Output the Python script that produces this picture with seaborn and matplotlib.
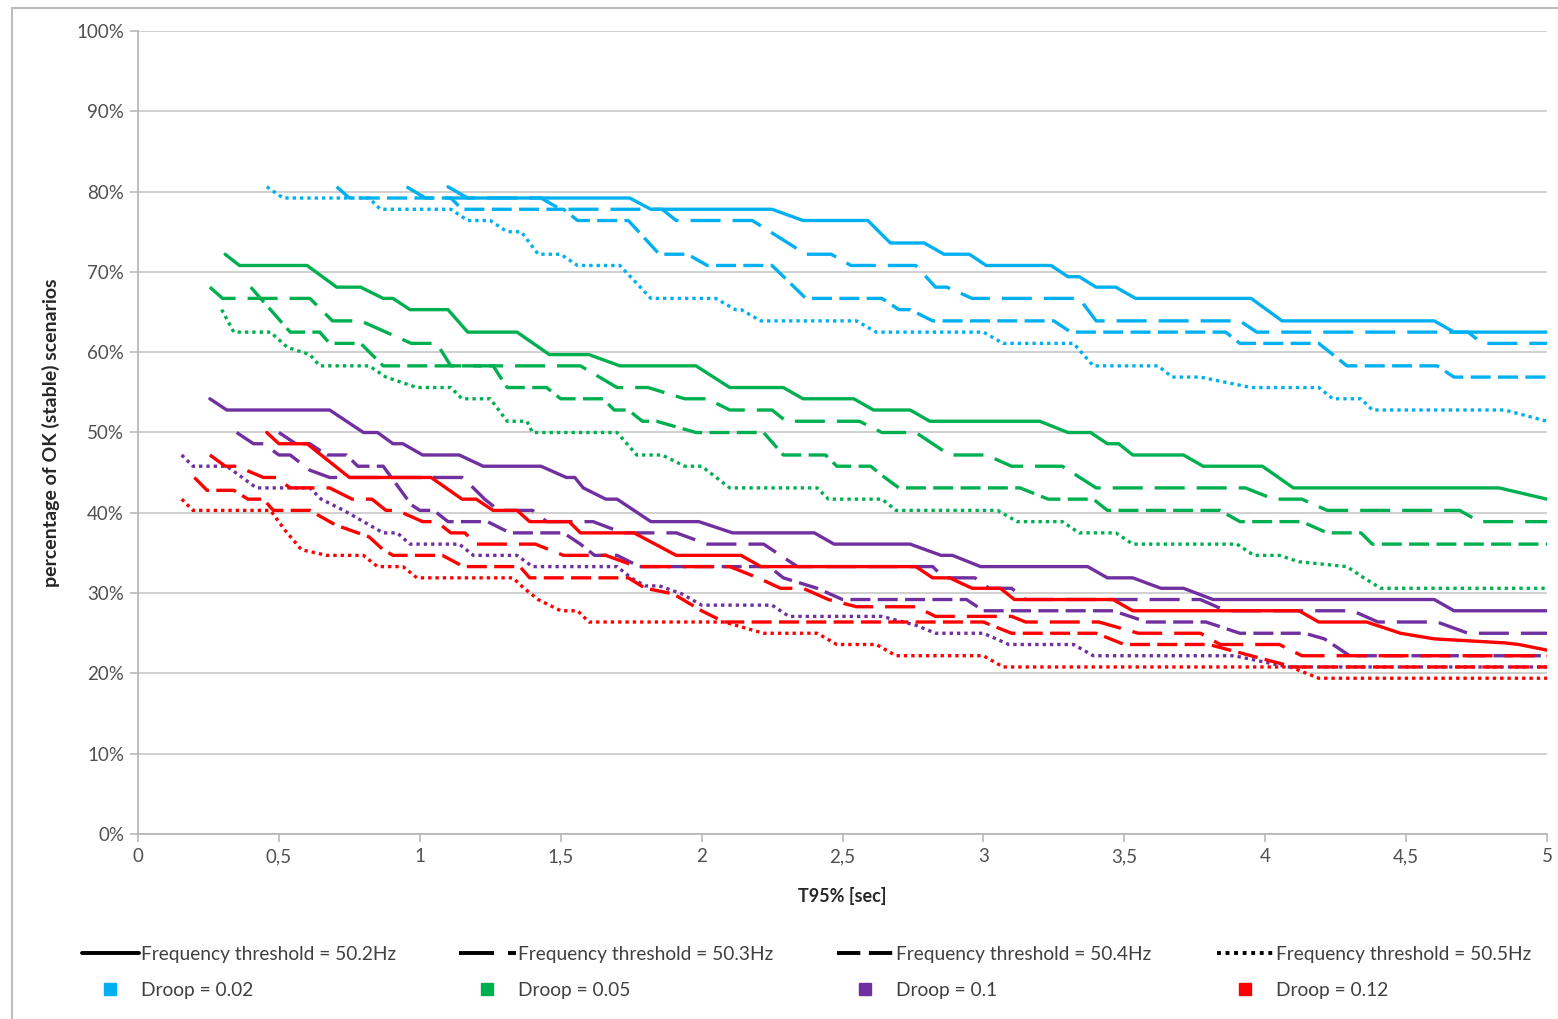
import matplotlib
matplotlib.use("Agg")
import matplotlib.pyplot as plt
import pandas as pd
import seaborn as sns
from matplotlib.lines import Line2D
from matplotlib.ticker import PercentFormatter

# ---- series: T95% [sec] vs percentage of OK scenarios ----
droop_labels = ["Droop = 0.02", "Droop = 0.05", "Droop = 0.1", "Droop = 0.12"]
threshold_labels = ["Frequency threshold = 50.2Hz", "Frequency threshold = 50.3Hz",
                    "Frequency threshold = 50.4Hz", "Frequency threshold = 50.5Hz"]

# Droop = 0.02
d002_f502_t = [1.10, 1.17, 1.745, 1.82, 2.25, 2.36, 2.59, 2.67, 2.79, 2.86, 2.95, 3.01, 3.24, 3.30, 3.34, 3.40, 3.47, 3.54, 3.95, 4.06, 4.60, 4.67, 5.0]
d002_f502_p = [80.6, 79.2, 79.2, 77.8, 77.8, 76.4, 76.4, 73.6, 73.6, 72.2, 72.2, 70.8, 70.8, 69.4, 69.4, 68.1, 68.1, 66.7, 66.7, 63.9, 63.9, 62.5, 62.5]
d002_f503_t = [0.953, 1.02, 1.43, 1.50, 1.86, 1.91, 2.18, 2.37, 2.46, 2.53, 2.76, 2.83, 2.87, 2.96, 3.34, 3.40, 3.91, 3.97, 4.72, 4.77, 5.0]
d002_f503_p = [80.6, 79.2, 79.2, 77.8, 77.8, 76.4, 76.4, 72.2, 72.2, 70.8, 70.8, 68.1, 68.1, 66.7, 66.7, 63.9, 63.9, 62.5, 62.5, 61.1, 61.1]
d002_f504_t = [0.705, 0.75, 1.11, 1.15, 1.51, 1.56, 1.74, 1.85, 1.95, 2.02, 2.25, 2.37, 2.64, 2.70, 2.74, 2.82, 3.25, 3.31, 3.86, 3.91, 4.19, 4.29, 4.61, 4.67, 5.0]
d002_f504_p = [80.6, 79.2, 79.2, 77.8, 77.8, 76.4, 76.4, 72.2, 72.2, 70.8, 70.8, 66.7, 66.7, 65.3, 65.3, 63.9, 63.9, 62.5, 62.5, 61.1, 61.1, 58.3, 58.3, 56.9, 56.9]
d002_f505_t = [0.457, 0.515, 0.82, 0.86, 1.11, 1.17, 1.25, 1.31, 1.36, 1.42, 1.50, 1.56, 1.71, 1.82, 2.05, 2.12, 2.14, 2.21, 2.55, 2.62, 3.00, 3.07, 3.32, 3.39, 3.62, 3.67, 3.77, 3.95, 4.19, 4.24, 4.34, 4.38, 4.85, 5.0]
d002_f505_p = [80.6, 79.2, 79.2, 77.8, 77.8, 76.4, 76.4, 75.0, 75.0, 72.2, 72.2, 70.8, 70.8, 66.7, 66.7, 65.3, 65.3, 63.9, 63.9, 62.5, 62.5, 61.1, 61.1, 58.3, 58.3, 56.9, 56.9, 55.6, 55.6, 54.2, 54.2, 52.8, 52.8, 51.4]

# Droop = 0.05
d005_f502_t = [0.309, 0.36, 0.60, 0.705, 0.79, 0.87, 0.905, 0.965, 1.10, 1.17, 1.345, 1.46, 1.60, 1.71, 1.98, 2.10, 2.29, 2.36, 2.54, 2.61, 2.74, 2.81, 3.20, 3.30, 3.38, 3.44, 3.48, 3.53, 3.71, 3.78, 3.99, 4.10, 4.83, 5.0]
d005_f502_p = [72.2, 70.8, 70.8, 68.1, 68.1, 66.7, 66.7, 65.3, 65.3, 62.5, 62.5, 59.7, 59.7, 58.3, 58.3, 55.6, 55.6, 54.2, 54.2, 52.8, 52.8, 51.4, 51.4, 50.0, 50.0, 48.6, 48.6, 47.2, 47.2, 45.8, 45.8, 43.1, 43.1, 41.7]
d005_f503_t = [0.255, 0.30, 0.61, 0.69, 0.79, 0.88, 0.97, 1.06, 1.11, 1.57, 1.70, 1.81, 1.94, 2.02, 2.10, 2.25, 2.30, 2.56, 2.64, 2.76, 2.88, 3.01, 3.10, 3.28, 3.40, 3.93, 4.03, 4.13, 4.22, 4.69, 4.76, 5.0]
d005_f503_p = [68.1, 66.7, 66.7, 63.9, 63.9, 62.5, 61.1, 61.1, 58.3, 58.3, 55.6, 55.6, 54.2, 54.2, 52.8, 52.8, 51.4, 51.4, 50.0, 50.0, 47.2, 47.2, 45.8, 45.8, 43.1, 43.1, 41.7, 41.7, 40.3, 40.3, 38.9, 38.9]
d005_f504_t = [0.40, 0.54, 0.645, 0.68, 0.79, 0.87, 1.26, 1.31, 1.45, 1.50, 1.65, 1.69, 1.74, 1.79, 1.84, 1.98, 2.22, 2.29, 2.44, 2.48, 2.60, 2.65, 2.70, 3.13, 3.23, 3.39, 3.44, 3.84, 3.91, 4.13, 4.22, 4.34, 4.38, 5.0]
d005_f504_p = [68.1, 62.5, 62.5, 61.1, 61.1, 58.3, 58.3, 55.6, 55.6, 54.2, 54.2, 52.8, 52.8, 51.4, 51.4, 50.0, 50.0, 47.2, 47.2, 45.8, 45.8, 44.4, 43.1, 43.1, 41.7, 41.7, 40.3, 40.3, 38.9, 38.9, 37.5, 37.5, 36.1, 36.1]
d005_f505_t = [0.297, 0.34, 0.47, 0.53, 0.61, 0.645, 0.82, 0.88, 0.99, 1.11, 1.15, 1.25, 1.31, 1.38, 1.40, 1.70, 1.77, 1.86, 1.94, 2.00, 2.10, 2.41, 2.45, 2.64, 2.69, 3.05, 3.12, 3.28, 3.34, 3.47, 3.53, 3.90, 3.96, 4.05, 4.12, 4.29, 4.35, 4.41, 5.0]
d005_f505_p = [65.3, 62.5, 62.5, 60.6, 59.7, 58.3, 58.3, 56.9, 55.6, 55.6, 54.2, 54.2, 51.4, 51.4, 50.0, 50.0, 47.2, 47.2, 45.8, 45.8, 43.1, 43.1, 41.7, 41.7, 40.3, 40.3, 38.9, 38.9, 37.5, 37.5, 36.1, 36.1, 34.7, 34.7, 33.9, 33.3, 31.9, 30.6, 30.6]

# Droop = 0.1
d010_f502_t = [0.255, 0.315, 0.68, 0.80, 0.85, 0.905, 0.94, 1.01, 1.14, 1.225, 1.43, 1.52, 1.55, 1.58, 1.66, 1.70, 1.82, 1.99, 2.11, 2.40, 2.47, 2.74, 2.85, 2.89, 2.99, 3.37, 3.44, 3.53, 3.63, 3.71, 3.815, 4.60, 4.67, 5.0]
d010_f502_p = [54.2, 52.8, 52.8, 50.0, 50.0, 48.6, 48.6, 47.2, 47.2, 45.8, 45.8, 44.4, 44.4, 43.1, 41.7, 41.7, 38.9, 38.9, 37.5, 37.5, 36.1, 36.1, 34.7, 34.7, 33.3, 33.3, 31.9, 31.9, 30.6, 30.6, 29.2, 29.2, 27.8, 27.8]
d010_f503_t = [0.35, 0.41, 0.445, 0.50, 0.54, 0.61, 0.68, 1.15, 1.19, 1.23, 1.28, 1.40, 1.45, 1.615, 1.72, 1.91, 2.02, 2.22, 2.34, 2.82, 2.86, 2.97, 3.02, 3.10, 3.15, 3.77, 3.86, 4.31, 4.40, 4.61, 4.72, 5.0]
d010_f503_p = [50.0, 48.6, 48.6, 47.2, 47.2, 45.3, 44.4, 44.4, 43.1, 41.7, 40.3, 40.3, 38.9, 38.9, 37.5, 37.5, 36.1, 36.1, 33.3, 33.3, 31.9, 31.9, 30.6, 30.6, 29.2, 29.2, 27.8, 27.8, 26.4, 26.4, 25.0, 25.0]
d010_f504_t = [0.50, 0.56, 0.61, 0.67, 0.74, 0.78, 0.87, 0.97, 1.00, 1.05, 1.10, 1.24, 1.32, 1.51, 1.57, 1.62, 1.70, 1.78, 2.24, 2.29, 2.41, 2.50, 2.94, 3.00, 3.46, 3.58, 3.79, 3.91, 4.14, 4.21, 4.30, 5.0]
d010_f504_p = [50.0, 48.6, 48.6, 47.2, 47.2, 45.8, 45.8, 41.0, 40.3, 40.3, 38.9, 38.9, 37.5, 37.5, 36.1, 34.7, 34.7, 33.3, 33.3, 31.9, 30.6, 29.2, 29.2, 27.8, 27.8, 26.4, 26.4, 25.0, 25.0, 24.3, 22.2, 22.2]
d010_f505_t = [0.155, 0.195, 0.315, 0.37, 0.42, 0.61, 0.65, 0.73, 0.80, 0.87, 0.92, 0.965, 1.14, 1.19, 1.345, 1.40, 1.70, 1.75, 1.80, 1.85, 1.93, 2.00, 2.25, 2.31, 2.64, 2.76, 2.83, 3.00, 3.09, 3.32, 3.39, 3.89, 4.08, 5.0]
d010_f505_p = [47.2, 45.8, 45.8, 44.4, 43.1, 43.1, 41.7, 40.3, 38.9, 37.5, 37.5, 36.1, 36.1, 34.7, 34.7, 33.3, 33.3, 31.9, 30.9, 30.9, 29.9, 28.5, 28.5, 27.1, 27.1, 26.0, 25.0, 25.0, 23.6, 23.6, 22.2, 22.2, 20.8, 20.8]

# Droop = 0.12
d012_f502_t = [0.457, 0.50, 0.60, 0.75, 1.04, 1.15, 1.20, 1.26, 1.345, 1.39, 1.53, 1.57, 1.76, 1.91, 2.14, 2.21, 2.76, 2.82, 2.88, 2.96, 3.06, 3.11, 3.46, 3.53, 4.12, 4.19, 4.36, 4.48, 4.60, 4.85, 4.90, 5.0]
d012_f502_p = [50.0, 48.6, 48.6, 44.4, 44.4, 41.7, 41.7, 40.3, 40.3, 38.9, 38.9, 37.5, 37.5, 34.7, 34.7, 33.3, 33.3, 31.9, 31.9, 30.6, 30.6, 29.2, 29.2, 27.8, 27.8, 26.4, 26.4, 25.0, 24.3, 23.8, 23.6, 22.9]
d012_f503_t = [0.255, 0.31, 0.35, 0.445, 0.49, 0.54, 0.68, 0.76, 0.83, 0.88, 0.92, 1.01, 1.06, 1.11, 1.16, 1.20, 1.41, 1.51, 1.66, 1.77, 2.10, 2.20, 2.28, 2.36, 2.45, 2.55, 2.76, 2.83, 3.10, 3.15, 3.41, 3.55, 3.77, 3.84, 4.05, 4.13, 5.0]
d012_f503_p = [47.2, 45.8, 45.8, 44.4, 44.4, 43.1, 43.1, 41.7, 41.7, 40.3, 40.3, 38.9, 38.9, 37.5, 37.5, 36.1, 36.1, 34.7, 34.7, 33.3, 33.3, 31.9, 30.6, 30.6, 29.2, 28.3, 28.3, 27.1, 27.1, 26.4, 26.4, 25.0, 25.0, 23.6, 23.6, 22.2, 22.2]
d012_f504_t = [0.20, 0.245, 0.34, 0.39, 0.445, 0.48, 0.61, 0.70, 0.82, 0.87, 0.905, 1.08, 1.155, 1.355, 1.39, 1.74, 1.80, 1.90, 2.00, 2.08, 3.00, 3.10, 3.40, 3.50, 3.80, 3.95, 4.10, 5.0]
d012_f504_p = [44.4, 42.8, 42.8, 41.7, 41.7, 40.3, 40.3, 38.5, 37.0, 35.4, 34.7, 34.7, 33.3, 33.3, 31.9, 31.9, 30.6, 29.9, 27.8, 26.4, 26.4, 25.0, 25.0, 23.6, 23.6, 22.2, 20.8, 20.8]
d012_f505_t = [0.155, 0.195, 0.47, 0.52, 0.58, 0.67, 0.80, 0.85, 0.94, 0.99, 1.33, 1.37, 1.42, 1.50, 1.56, 1.60, 2.08, 2.22, 2.41, 2.48, 2.62, 2.69, 3.00, 3.07, 4.09, 4.19, 5.0]
d012_f505_p = [41.7, 40.3, 40.3, 37.9, 35.4, 34.7, 34.7, 33.3, 33.3, 31.9, 31.9, 30.6, 29.2, 27.8, 27.8, 26.4, 26.4, 25.0, 25.0, 23.6, 23.6, 22.2, 22.2, 20.8, 20.8, 19.4, 19.4]

series = [
    (droop_labels[0], threshold_labels[0], d002_f502_t, d002_f502_p),
    (droop_labels[0], threshold_labels[1], d002_f503_t, d002_f503_p),
    (droop_labels[0], threshold_labels[2], d002_f504_t, d002_f504_p),
    (droop_labels[0], threshold_labels[3], d002_f505_t, d002_f505_p),
    (droop_labels[1], threshold_labels[0], d005_f502_t, d005_f502_p),
    (droop_labels[1], threshold_labels[1], d005_f503_t, d005_f503_p),
    (droop_labels[1], threshold_labels[2], d005_f504_t, d005_f504_p),
    (droop_labels[1], threshold_labels[3], d005_f505_t, d005_f505_p),
    (droop_labels[2], threshold_labels[0], d010_f502_t, d010_f502_p),
    (droop_labels[2], threshold_labels[1], d010_f503_t, d010_f503_p),
    (droop_labels[2], threshold_labels[2], d010_f504_t, d010_f504_p),
    (droop_labels[2], threshold_labels[3], d010_f505_t, d010_f505_p),
    (droop_labels[3], threshold_labels[0], d012_f502_t, d012_f502_p),
    (droop_labels[3], threshold_labels[1], d012_f503_t, d012_f503_p),
    (droop_labels[3], threshold_labels[2], d012_f504_t, d012_f504_p),
    (droop_labels[3], threshold_labels[3], d012_f505_t, d012_f505_p),
]

rows = []
for k, (dr, th, ts, ps) in enumerate(series):
    for t, p in zip(ts, ps):
        rows.append({"run": k, "droop": dr, "threshold": th, "t95": t, "ok": p})
df = pd.DataFrame(rows)

palette = dict(zip(droop_labels, ["#00b0f0", "#00b050", "#7030a0", "#ff0000"]))
dash_styles = dict(zip(threshold_labels, ["", (9.0, 3.6), (6.0, 2.2), (1.0, 1.2)]))

sns.set_theme(style="white")
plt.rcParams["font.family"] = ["Lato", "DejaVu Sans"]

fig = plt.figure(figsize=(15.58, 10.19), dpi=100)
ax = fig.add_axes([138 / 1558, 1 - 834 / 1019, (1547 - 138) / 1558, (834 - 31) / 1019])

sns.lineplot(data=df, x="t95", y="ok", hue="droop", style="threshold", units="run",
             estimator=None, sort=False, palette=palette, dashes=dash_styles,
             hue_order=droop_labels, style_order=threshold_labels,
             linewidth=2.4, legend=False, ax=ax,
             solid_joinstyle="round", dash_joinstyle="round", solid_capstyle="round")

ax.set_xlim(0, 5)
ax.set_ylim(0, 100)
ax.set_xticks([0, 0.5, 1, 1.5, 2, 2.5, 3, 3.5, 4, 4.5, 5])
ax.set_xticklabels(["0", "0,5", "1", "1,5", "2", "2,5", "3", "3,5", "4", "4,5", "5"])
ax.set_yticks(range(0, 101, 10))
ax.yaxis.set_major_formatter(PercentFormatter(decimals=0))
ax.grid(axis="y", color="#c8c8c8", linewidth=1.2)
ax.grid(axis="x", visible=False)
ax.set_axisbelow(True)
for side in ("top", "right"):
    ax.spines[side].set_visible(False)
for side in ("left", "bottom"):
    ax.spines[side].set_color("#b4b4b4")
    ax.spines[side].set_linewidth(1.2)
ax.tick_params(axis="both", which="major", direction="out", length=6, width=1.1,
               color="#b4b4b4", labelsize=13.5, labelcolor="#505050", pad=4)
ax.tick_params(axis="y", left=True)
ax.tick_params(axis="x", bottom=True)

ax.set_xlabel("T95% [sec]", fontsize=13, fontweight="bold", color="#262626", labelpad=16)
ax.set_ylabel("percentage of OK (stable) scenarios", fontsize=14, fontweight="bold",
              color="#262626", labelpad=12)

# legend: one block per column, line style above the droop colour
col_left = [72, 449, 827, 1207]
for th, dr, xl in zip(threshold_labels, droop_labels, col_left):
    ls = dash_styles[th]
    h_line = Line2D([], [], color="black", linewidth=2.8)
    if ls:
        h_line.set_dashes(ls)
    h_sq = Line2D([], [], marker="s", linestyle="none", color=palette[dr], markersize=9)
    fig.legend([h_line, h_sq], [th, dr], loc="upper left",
               bbox_to_anchor=(xl / 1558, 1 - 936 / 1019), frameon=False, borderpad=0,
               fontsize=13.8, handlelength=3.0, handletextpad=0.12, labelspacing=1.0,
               labelcolor="#404040")

# outer chart frame
fig.add_artist(Line2D([12 / 1558, 1], [1 - 8 / 1019, 1 - 8 / 1019], color="#bdbdbd", linewidth=1.5,
                      transform=fig.transFigure))
fig.add_artist(Line2D([12 / 1558, 12 / 1558], [0, 1 - 8 / 1019], color="#bdbdbd", linewidth=1.5,
                      transform=fig.transFigure))

fig.savefig("out.png", dpi=100)
